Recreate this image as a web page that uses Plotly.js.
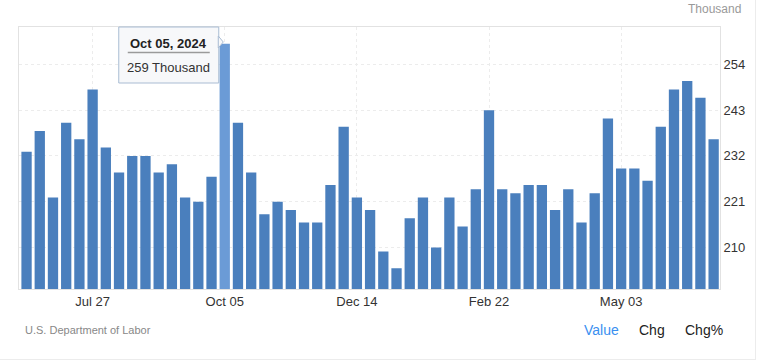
<!DOCTYPE html>
<html>
<head>
<meta charset="utf-8">
<script src="https://cdn.plot.ly/plotly-3.0.1.min.js"></script>
<style>
  html, body { margin: 0; padding: 0; background: #fff; }
  #chart { width: 768px; height: 362px; }
</style>
</head>
<body>
<div id="chart"></div>
<script>
// Week-ending dates (categories)
const weekEnding = [
  '2024-06-22','2024-06-29','2024-07-06','2024-07-13','2024-07-20','2024-07-27',
  '2024-08-03','2024-08-10','2024-08-17','2024-08-24','2024-08-31','2024-09-07',
  '2024-09-14','2024-09-21','2024-09-28','2024-10-05','2024-10-12','2024-10-19',
  '2024-10-26','2024-11-02','2024-11-09','2024-11-16','2024-11-23','2024-11-30',
  '2024-12-07','2024-12-14','2024-12-21','2024-12-28','2025-01-04','2025-01-11',
  '2025-01-18','2025-01-25','2025-02-01','2025-02-08','2025-02-15','2025-02-22',
  '2025-03-01','2025-03-08','2025-03-15','2025-03-22','2025-03-29','2025-04-05',
  '2025-04-12','2025-04-19','2025-04-26','2025-05-03','2025-05-10','2025-05-17',
  '2025-05-24','2025-05-31','2025-06-07','2025-06-14','2025-06-21'
];
// Initial jobless claims, thousands
const claims = [
  233,238,222,240,236,248,234,228,232,232,
  228,230,222,221,227,259,240,228,218,221,
  219,216,216,225,239,222,219,209,205,217,
  222,210,222,215,224,243,224,223,225,225,
  219,224,216,223,241,229,229,226,239,248,
  250,246,236
];
// Axis ticks
const xTickVals = ['2024-07-27','2024-10-05','2024-12-14','2025-02-22','2025-05-03'];
const xTickText = ['Jul 27','Oct 05','Dec 14','Feb 22','May 03'];
const yTickVals = [210,221,232,243,254];
const unitLabel = 'Thousand';
const sourceLabel = 'U.S. Department of Labor';
const tabLabels = ['Value','Chg','Chg%'];
const highlightDate = '2024-10-05';

const baseColor = '#4a7fbd';
const hiColor = '#6b9bd6';
const hiIdx = weekEnding.indexOf(highlightDate);
const colors = weekEnding.map(d => d === highlightDate ? hiColor : baseColor);

const months = ['Jan','Feb','Mar','Apr','May','Jun','Jul','Aug','Sep','Oct','Nov','Dec'];
function fmtDate(s) {
  const [y, m, d] = s.split('-');
  return months[+m - 1] + ' ' + d + ', ' + y;
}

const FONT = 'Arial, "Liberation Sans", sans-serif';

const trace = {
  type: 'bar',
  x: weekEnding,
  y: claims,
  marker: { color: colors, line: { width: 0 } },
  hoverinfo: 'skip'
};

const M = { l: 19, r: 48, t: 27, b: 73 };
const W = 768, H = 362;
const PW = W - M.l - M.r, PH = H - M.t - M.b;
const py = p => (H - M.b - p) / PH;   // pixel y -> paper y
const px = p => (p - M.l) / PW;       // pixel x -> paper x

const layout = {
  width: W, height: H,
  margin: M,
  paper_bgcolor: '#ffffff',
  plot_bgcolor: '#ffffff',
  bargap: 0.22,
  showlegend: false,
  font: { family: FONT, color: '#333', size: 13 },
  xaxis: {
    type: 'date',
    range: ['2024-06-18 00:00', '2025-06-24 09:00'],
    tickvals: xTickVals,
    ticktext: xTickText,
    ticks: '',
    tickfont: { size: 13, color: '#333' },
    showgrid: true,
    gridcolor: '#ececec',
    griddash: 'dot',
    gridwidth: 1,
    showline: true,
    linecolor: '#e2e2e2',
    linewidth: 1,
    mirror: true,
    zeroline: false,
    fixedrange: true
  },
  yaxis: {
    side: 'right',
    range: [200, 263],
    tickvals: yTickVals,
    ticks: '',
    ticklabelstandoff: 0,
    tickfont: { size: 13, color: '#333' },
    showgrid: true,
    gridcolor: '#ececec',
    griddash: 'dot',
    gridwidth: 1,
    showline: true,
    linecolor: '#e2e2e2',
    linewidth: 1,
    mirror: true,
    zeroline: false,
    fixedrange: true
  },
  shapes: [
    {
      type: 'rect', xref: 'x', xsizemode: 'pixel', xanchor: highlightDate,
      x0: -106, x1: -6, yref: 'paper', y0: py(83), y1: py(27),
      fillcolor: '#f7f8fa', line: { color: '#a9bcd3', width: 1 }, layer: 'above'
    },
    {
      type: 'path', xref: 'x', xsizemode: 'pixel', xanchor: highlightDate,
      yref: 'paper',
      path: 'M -6.5,' + py(36) + ' L -1.5,' + py(42) + ' L -6.5,' + py(48) + ' Z',
      fillcolor: '#f7f8fa', line: { color: '#a9bcd3', width: 1 }, layer: 'above'
    },
    {
      type: 'line', xref: 'x', xsizemode: 'pixel', xanchor: highlightDate,
      x0: -97, x1: -15, yref: 'paper', y0: py(52.5), y1: py(52.5),
      line: { color: '#9a9a9a', width: 1.5 }, layer: 'above'
    },
    {
      type: 'line', xref: 'paper', yref: 'paper',
      x0: px(755.5), x1: px(755.5), y0: py(360), y1: py(0),
      line: { color: '#ececec', width: 1 }
    },
    {
      type: 'line', xref: 'paper', yref: 'paper',
      x0: px(0), x1: px(755.5), y0: py(359.5), y1: py(359.5),
      line: { color: '#ececec', width: 1 }
    }
  ],
  annotations: [
    {
      text: '<b>' + fmtDate(weekEnding[hiIdx]) + '</b>',
      xref: 'x', x: highlightDate, xshift: -56, yref: 'paper', y: py(43),
      showarrow: false, xanchor: 'center', yanchor: 'middle',
      font: { family: FONT, size: 13, color: '#222' }
    },
    {
      text: claims[hiIdx] + ' ' + unitLabel,
      xref: 'x', x: highlightDate, xshift: -56, yref: 'paper', y: py(67),
      showarrow: false, xanchor: 'center', yanchor: 'middle',
      font: { family: FONT, size: 13, color: '#333' }
    },
    {
      text: unitLabel, xref: 'paper', yref: 'paper',
      x: px(743), y: py(9), xanchor: 'right', yanchor: 'middle', showarrow: false,
      font: { family: FONT, size: 12, color: '#999' }
    },
    {
      text: sourceLabel, xref: 'paper', yref: 'paper',
      x: px(23), y: py(330), xanchor: 'left', yanchor: 'middle', showarrow: false,
      font: { family: FONT, size: 11, color: '#888' }
    },
    {
      text: tabLabels[0], xref: 'paper', yref: 'paper',
      x: px(601), y: py(330), xanchor: 'center', yanchor: 'middle', showarrow: false,
      font: { family: FONT, size: 14, color: '#3a8ff0' }
    },
    {
      text: tabLabels[1], xref: 'paper', yref: 'paper',
      x: px(652), y: py(330), xanchor: 'center', yanchor: 'middle', showarrow: false,
      font: { family: FONT, size: 14, color: '#222' }
    },
    {
      text: tabLabels[2], xref: 'paper', yref: 'paper',
      x: px(704), y: py(330), xanchor: 'center', yanchor: 'middle', showarrow: false,
      font: { family: FONT, size: 14, color: '#222' }
    }
  ]
};

Plotly.newPlot('chart', [trace], layout, { displayModeBar: false, staticPlot: true });
</script>
</body>
</html>
